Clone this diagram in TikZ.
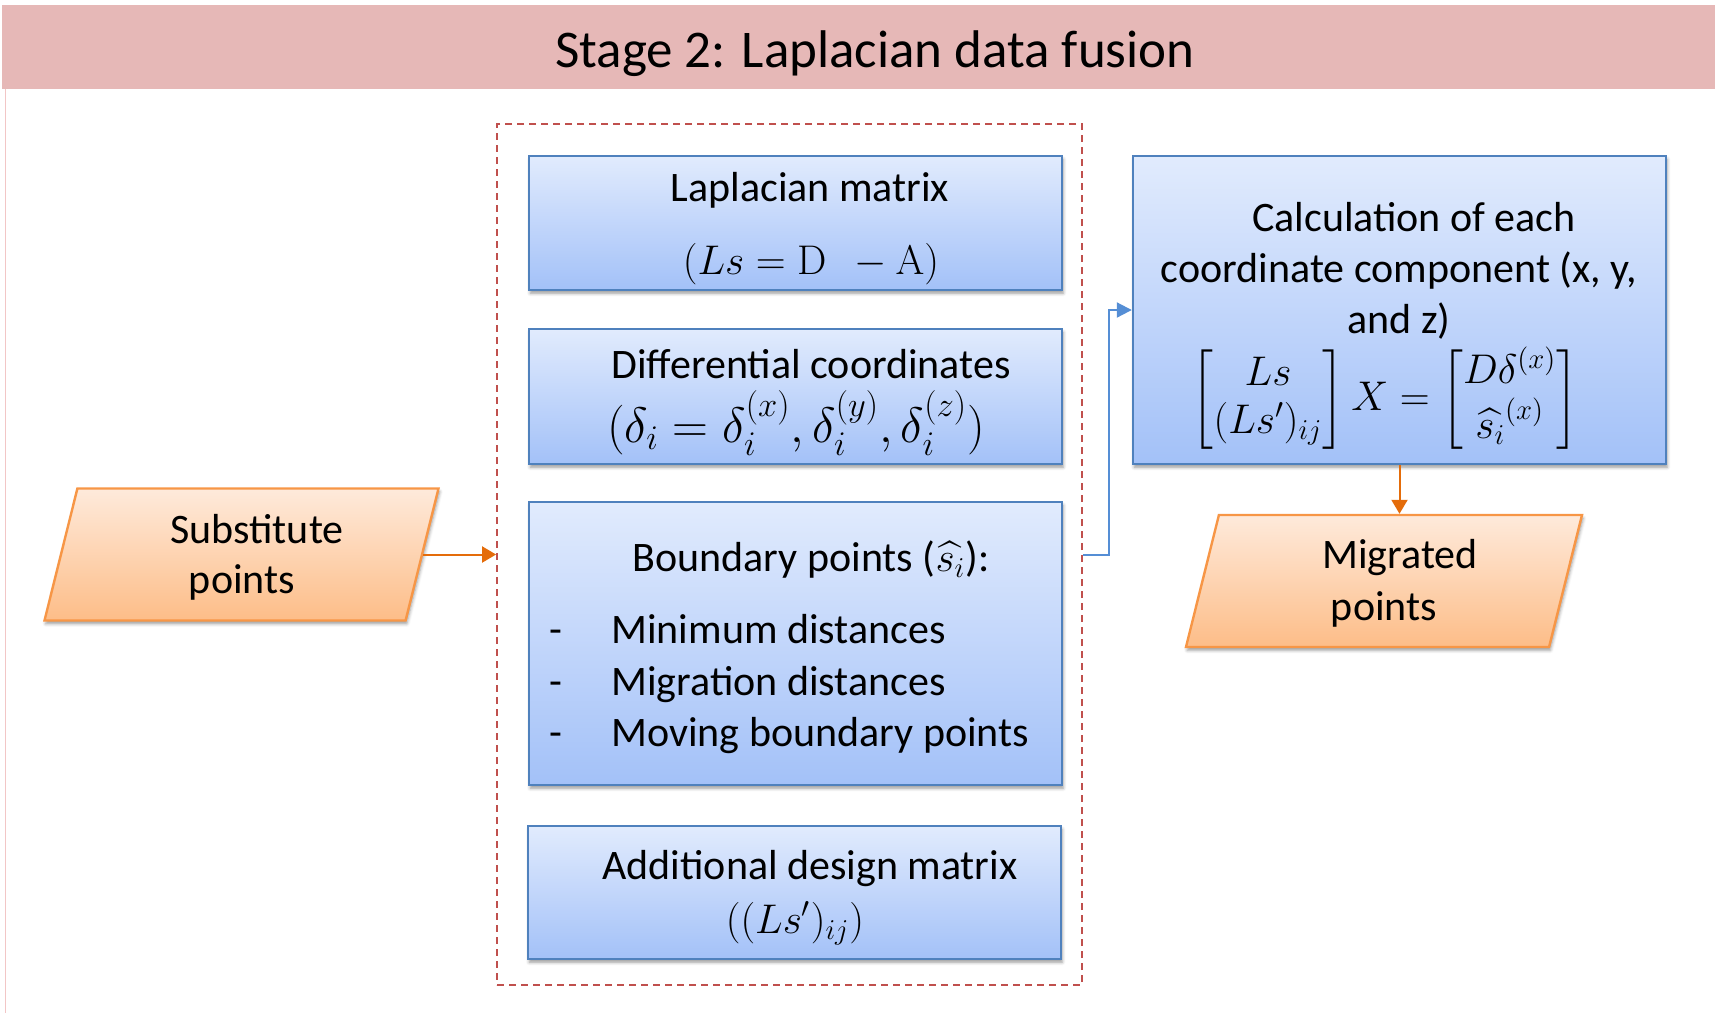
\documentclass[tikz,border=0pt]{standalone}
\usepackage{amsmath}
\usepackage[no-math]{fontspec}
\setmainfont{Carlito}
\usetikzlibrary{shapes.geometric,shadows.blur,arrows.meta}

\definecolor{hdr}{HTML}{E6B8B7}
\definecolor{frameline}{HTML}{F2C6C6}
\definecolor{boxtop}{HTML}{E1EBFD}
\definecolor{boxbot}{HTML}{A3C1F8}
\definecolor{boxline}{HTML}{4F81BD}
\definecolor{partop}{HTML}{FEEADB}
\definecolor{parbot}{HTML}{FDBD88}
\definecolor{parline}{HTML}{F79646}
\definecolor{orarrow}{HTML}{E46C0A}
\definecolor{blarrow}{HTML}{558ED5}
\definecolor{grpline}{HTML}{C0504D}

\begin{document}
\begin{tikzpicture}[x=0.5pt,y=-0.5pt,
  softshadow/.style={blur shadow={shadow xshift=0.6pt, shadow yshift=-1.6pt,
      shadow blur radius=1.6pt, shadow opacity=40}},
  procbox/.style={draw=boxline, line width=1.2pt, top color=boxtop,
      bottom color=boxbot, minimum width=266.5pt, inner sep=0pt, softshadow},
  iobox/.style={trapezium, trapezium left angle=76, trapezium right angle=104,
      trapezium stretches body=true, draw=parline, line width=1.2pt,
      top color=partop, bottom color=parbot, inner sep=0pt,
      text height=33pt, text depth=33pt, softshadow},
  txt/.style={font=\fontsize{21pt}{25pt}\selectfont, inner sep=0pt, anchor=base},
  mth/.style={font=\fontsize{20pt}{24pt}\selectfont, inner sep=0pt, anchor=base},
  oarrow/.style={draw=orarrow, line width=1pt, -{Triangle[length=7pt,width=8pt]}},
  barrow/.style={draw=blarrow, line width=1pt, -{Triangle[length=7.5pt,width=7.5pt]}}
]
\useasboundingbox (0,0) rectangle (1715,1014);

% heading band and page frame
\node[fill=hdr, minimum width=856.5pt, minimum height=42pt, inner sep=0pt] (band) at (858.5,47) {};
\node[font=\fontsize{26.5pt}{32pt}\selectfont, inner sep=0pt, anchor=base] (title) at (875,67)
  {Stage 2: Laplacian data fusion};
\draw[frameline, line width=0.8pt] (5.5,89) -- (5.5,1013);

% group of inputs
\node[draw=grpline, dash pattern=on 3.5pt off 2.5pt, line width=0.9pt,
  minimum width=292.5pt, minimum height=430.5pt, inner sep=0pt] (grp) at (789.5,554.5) {};

% Laplacian matrix
\node[procbox, minimum height=67pt] (lap) at (795.5,223) {};
\node[txt] (lap1) at (810,201) {Laplacian matrix};
\node[mth] (lap2) at (811,274) {$(Ls = \mathrm{D}\;\, - \mathrm{A})$};

% differential coordinates
\node[procbox, minimum height=67.5pt] (dif) at (795.5,396.5) {};
\node[txt] (dif1) at (811,378) {Differential coordinates};
\node[mth, font=\fontsize{23pt}{27pt}\selectfont] (dif2) at (796,442)
  {$(\delta_i = \delta_i^{(x)}, \delta_i^{(y)}, \delta_i^{(z)})$};

% boundary points
\node[procbox, minimum height=141.5pt] (bnd) at (795.5,643.5) {};
\node[txt] (bnd0) at (811,571) {Boundary points ($\widehat{s_i}$):};
\node[txt] (bd1) at (556,643) {-};
\node[txt] (bd2) at (556,695) {-};
\node[txt] (bd3) at (556,746) {-};
\node[txt, anchor=base west] (bnd1) at (611,643) {Minimum distances};
\node[txt, anchor=base west] (bnd2) at (611,695) {Migration distances};
\node[txt, anchor=base west] (bnd3) at (611,746) {Moving boundary points};

% additional design matrix
\node[procbox, minimum height=66.5pt] (add) at (794.5,892.5) {};
\node[txt] (add1) at (810,879) {Additional design matrix};
\node[mth] (add2) at (795,933) {$((Ls')_{ij})$};

% calculation
\node[procbox, minimum height=154pt] (calc) at (1399.5,310) {};
\node[txt] (calc1) at (1414,231) {Calculation of each};
\node[txt] (calc2) at (1399,282) {coordinate component (x, y,};
\node[txt] (calc3) at (1399,333) {and z)};
\node[font=\fontsize{20pt}{24pt}\selectfont, inner sep=0pt] (calc4) at (1385,400)
  {$\begin{bmatrix} Ls \\ (Ls')_{ij} \end{bmatrix} X =
    \begin{bmatrix} D\delta^{(x)} \\ \widehat{s_i}^{(x)} \end{bmatrix}$};

% input and output points
\node[iobox, minimum width=197pt] (sub) at (241.5,554.5) {};
\node[txt] (sub1) at (257,543) {Substitute};
\node[txt] (sub2) at (242,593) {points};

\node[iobox, minimum width=198pt] (mig) at (1384,581) {};
\node[txt] (mig1) at (1400,568) {Migrated};
\node[txt] (mig2) at (1384,620) {points};

% connectors
\draw[oarrow] (sub.east) -- (grp.west);
\draw[barrow] (grp.east) -- ++(26,0) |- (calc.west);
\draw[oarrow] (calc.south) -- (calc.south |- mig.north);
\end{tikzpicture}
\end{document}
